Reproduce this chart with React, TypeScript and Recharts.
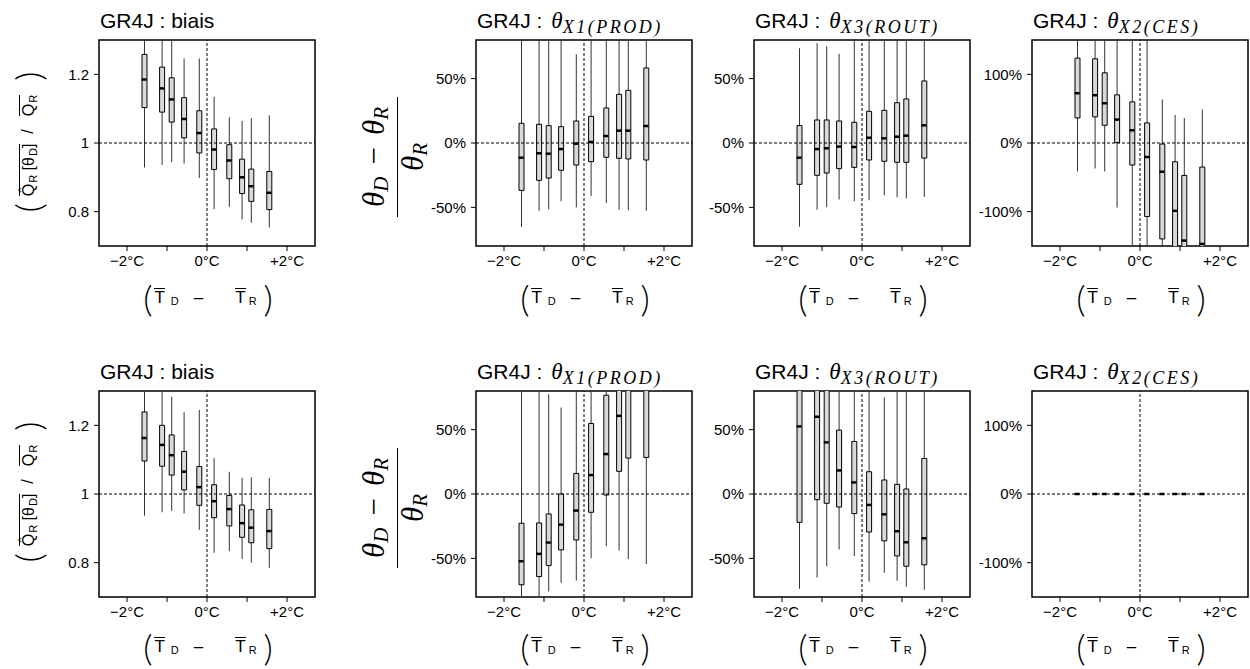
import React from "react";
import {
  Bar,
  ComposedChart,
  ReferenceArea,
  ReferenceLine,
  Scatter,
  XAxis,
  YAxis,
} from "recharts";

const SANS = "'Liberation Sans', Arial, Helvetica, sans-serif";
const SERIF = "'Liberation Serif', 'Times New Roman', serif";

// positions of the 10 boxes on the temperature axis (°C)
const X_POS = [-1.56, -1.12, -0.88, -0.57, -0.19, 0.18, 0.56, 0.88, 1.11, 1.56];
const X_TICKS = [-2, -1, 0, 1, 2];

// each box: [lower whisker, q1, median, q3, upper whisker]
type Box = [number, number, number, number, number];

const biaisTop: Box[] = [
  [0.929, 1.103, 1.185, 1.258, 1.4],
  [0.936, 1.09, 1.159, 1.221, 1.38],
  [0.945, 1.061, 1.127, 1.19, 1.36],
  [0.94, 1.015, 1.07, 1.132, 1.246],
  [0.898, 0.971, 1.029, 1.094, 1.246],
  [0.807, 0.923, 0.981, 1.041, 1.135],
  [0.814, 0.896, 0.949, 0.995, 1.075],
  [0.777, 0.853, 0.9, 0.953, 1.065],
  [0.768, 0.83, 0.874, 0.924, 1.072],
  [0.754, 0.806, 0.855, 0.917, 1.081],
];
const prodTop: Box[] = [
  [-65.2, -36.8, -11.4, 15.3, 100],
  [-52.6, -29, -8, 14.5, 100],
  [-51.5, -27.2, -8.3, 13.5, 100],
  [-45.3, -21.2, -4.7, 12.7, 100],
  [-50, -17.1, -0.5, 17.1, 68.9],
  [-41.2, -14.5, 0.8, 20.7, 100],
  [-46.6, -11.1, 5.4, 27.2, 100],
  [-51.8, -11.9, 9.6, 37.8, 100],
  [-52.3, -12.4, 9.6, 40.9, 100],
  [-52.6, -13.2, 13.2, 58.3, 100],
];
const routTop: Box[] = [
  [-65, -32.1, -11.4, 13.5, 73.5],
  [-51.8, -25.1, -4.7, 17.9, 77.7],
  [-49.7, -23.3, -4.1, 17.9, 75.1],
  [-43.8, -19.9, -2.8, 17.1, 69.4],
  [-45.3, -18.9, -3.1, 16.1, 100],
  [-44.5, -13.2, 4.1, 24.6, 100],
  [-40.6, -14.2, 3.6, 25.4, 100],
  [-42.2, -15, 4.9, 31.3, 100],
  [-43.2, -15, 5.7, 34.2, 100],
  [-41.9, -11.7, 13.7, 48.2, 100],
];
const cesTop: Box[] = [
  [-41.4, 36.5, 72.5, 123.6, 200],
  [-37, 38, 69.6, 122.6, 200],
  [-41.4, 25.8, 57.9, 102.2, 200],
  [-93.9, 0.5, 34.1, 70.1, 200],
  [-200, -32.1, 18.5, 59.9, 200],
  [-200, -107.1, -20.4, 29.2, 200],
  [-200, -139.7, -41.8, -1.5, 63.3],
  [-200, -170, -98.8, -27.3, 40.9],
  [-200, -175, -142.1, -47.2, 36.5],
  [-200, -180, -147, -35, 48.7],
];
const biaisBot: Box[] = [
  [0.937, 1.096, 1.163, 1.239, 1.4],
  [0.947, 1.081, 1.143, 1.2, 1.36],
  [0.951, 1.055, 1.113, 1.172, 1.283],
  [0.943, 1.012, 1.065, 1.124, 1.238],
  [0.896, 0.967, 1.02, 1.08, 1.245],
  [0.829, 0.931, 0.979, 1.027, 1.104],
  [0.834, 0.907, 0.956, 0.996, 1.065],
  [0.811, 0.874, 0.915, 0.968, 1.047],
  [0.8, 0.858, 0.902, 0.954, 1.049],
  [0.785, 0.841, 0.892, 0.955, 1.047],
];
const prodBot: Box[] = [
  [-100, -70.5, -52.2, -22.7, 100],
  [-100, -64.1, -46.5, -22.5, 100],
  [-75.7, -55.6, -37.7, -15.5, 77.5],
  [-69, -43.4, -23.8, 0, 67.2],
  [-67.2, -35.7, -12.9, 16, 100],
  [-49.9, -14.2, 14.7, 54.8, 100],
  [-40.6, -0.8, 31, 76.7, 100],
  [-43.9, 17.6, 60.7, 100, 150],
  [-50.4, 27.9, 90, 110, 150],
  [-54.3, 28.4, 90, 110, 150],
];
const routBot: Box[] = [
  [-73.6, -22, 52.5, 100, 150],
  [-64.9, -4.4, 60, 100, 150],
  [-56.1, -7.2, 40.1, 100, 150],
  [-43.2, -10.1, 18.3, 49.6, 100],
  [-48.1, -15.2, 9, 40.8, 100],
  [-68.2, -29.5, -8.5, 17.3, 100],
  [-61.2, -36.4, -15.8, 10.9, 74.9],
  [-67.4, -48.1, -28.9, 7.5, 100],
  [-72.1, -56.1, -37.5, 3.9, 100],
  [-74.4, -55, -34.4, 27.6, 100],
];
const cesBot: Box[] = X_POS.map(() => [0, 0, 0, 0, 0] as Box);

const PLOT_LEFT = [99, 476, 754, 1032];
const PLOT_TOP = [40, 391];
const PLOT_W = 216;
const PLOT_H = 206;

type Scale = { domain: [number, number]; ticks: number[]; ref: number; fmt: (v: number) => string };
const pct = (v: number) => `${v}%`;
const SCALES: Record<string, Scale> = {
  biais: { domain: [0.7, 1.3], ticks: [0.8, 1, 1.2], ref: 1, fmt: (v) => String(v) },
  p80: { domain: [-80, 80], ticks: [-50, 0, 50], ref: 0, fmt: pct },
  p150: { domain: [-150, 150], ticks: [-100, 0, 100], ref: 0, fmt: pct },
};

const fmtT = (v: number) => (v === 0 ? "0°C" : v === -2 ? "−2°C" : v === 2 ? "+2°C" : "");

const Median = (p: any) => (
  <line x1={p.cx - 3} x2={p.cx + 2} y1={p.cy} y2={p.cy} stroke="#000" strokeWidth={2.5} />
);

function Panel({ col, row, boxes, scale }: { col: number; row: number; boxes: Box[]; scale: Scale }) {
  const rows = X_POS.map((x, i) => ({
    x,
    whisker: [boxes[i][0], boxes[i][4]],
    box: [boxes[i][1], boxes[i][3]],
    med: boxes[i][2],
  }));
  const tickStyle = { fill: "#000", fontSize: 15, fontFamily: SANS };
  return (
    <div style={{ position: "absolute", left: PLOT_LEFT[col] - 60, top: PLOT_TOP[row] - 5 }}>
      <ComposedChart
        width={60 + PLOT_W + 5}
        height={5 + PLOT_H + 35}
        data={rows}
        margin={{ top: 5, right: 5, bottom: 0, left: 0 }}
      >
        <XAxis
          xAxisId="w"
          dataKey="x"
          type="number"
          domain={[-2.7, 2.7]}
          ticks={X_TICKS}
          tickFormatter={fmtT}
          allowDataOverflow
          axisLine={false}
          tickSize={5}
          tickMargin={4}
          height={35}
          stroke="#000"
          tick={tickStyle}
        />
        <XAxis
          xAxisId="b"
          dataKey="x"
          type="number"
          orientation="top"
          height={0}
          domain={[-2.7, 2.7]}
          ticks={X_TICKS}
          allowDataOverflow
          hide
        />
        <YAxis
          type="number"
          domain={scale.domain}
          ticks={scale.ticks}
          tickFormatter={scale.fmt}
          allowDataOverflow
          axisLine={false}
          tickSize={5}
          tickMargin={5}
          width={60}
          stroke="#000"
          tick={tickStyle}
        />
        <ReferenceLine xAxisId="w" y={scale.ref} stroke="#000" strokeDasharray="3 2" />
        <ReferenceLine xAxisId="w" x={0} stroke="#000" strokeDasharray="3 2" />
        <Bar xAxisId="w" dataKey="whisker" barSize={1} fill="#333" isAnimationActive={false} />
        <Bar xAxisId="b" dataKey="box" barSize={5} fill="#d9d9d9" stroke="#000" strokeWidth={1} isAnimationActive={false} />
        <Scatter xAxisId="b" dataKey="med" data={rows} shape={Median} isAnimationActive={false} />
        <ReferenceArea
          xAxisId="w"
          x1={-2.7}
          x2={2.7}
          y1={scale.domain[0]}
          y2={scale.domain[1]}
          fill="none"
          fillOpacity={0}
          stroke="#000"
          strokeWidth={1.5}
        />
      </ComposedChart>
    </div>
  );
}

const PAREN: React.CSSProperties = {
  fontFamily: "Lato, 'DejaVu Sans', sans-serif",
  fontWeight: 300,
  fontSize: 36,
  lineHeight: "38px",
};
const OVER: React.CSSProperties = {
  display: "inline-block",
  borderTop: "1px solid #000",
  lineHeight: "13px",
  paddingTop: 2,
};

function Title({ col, row, sub }: { col: number; row: number; sub?: string }) {
  const base = row === 0 ? 28 : 379;
  return (
    <div
      style={{
        position: "absolute",
        left: PLOT_LEFT[col] + 1,
        top: base - 18,
        fontFamily: SANS,
        fontSize: 21,
        lineHeight: "21px",
        whiteSpace: "nowrap",
      }}
    >
      {sub ? (
        <>
          GR4J :
          <span style={{ fontFamily: SERIF, fontStyle: "italic", fontSize: 23, marginLeft: 9 }}>θ</span>
          <span
            style={{
              fontFamily: SERIF,
              fontStyle: "italic",
              fontSize: 18,
              letterSpacing: 2.5,
              position: "relative",
              top: 5,
            }}
          >
            {sub}
          </span>
        </>
      ) : (
        "GR4J : biais"
      )}
    </div>
  );
}

function TLabel({ col, row }: { col: number; row: number }) {
  const cx = PLOT_LEFT[col] + PLOT_W / 2 + 1;
  const cy = row === 0 ? 298 : 647;
  const sub: React.CSSProperties = { fontSize: 11, position: "relative", top: 3 };
  return (
    <div
      style={{
        position: "absolute",
        left: cx - 80,
        top: cy - 20,
        width: 160,
        height: 40,
        display: "flex",
        alignItems: "center",
        justifyContent: "center",
        fontFamily: SANS,
        fontSize: 17,
        whiteSpace: "nowrap",
      }}
    >
      <span style={PAREN}>(</span>
      <span style={{ ...OVER, position: "relative", top: -2, marginLeft: 2 }}>T</span>
      <span style={{ ...sub, marginLeft: 6 }}>D</span>
      <span style={{ marginLeft: 15 }}>–</span>
      <span style={{ ...OVER, position: "relative", top: -2, marginLeft: 32 }}>T</span>
      <span style={{ ...sub, marginLeft: 3 }}>R</span>
      <span style={{ ...PAREN, marginLeft: 7 }}>)</span>
    </div>
  );
}

function QLabel({ row }: { row: number }) {
  const cx = 28;
  const cy = row === 0 ? 142 : 492;
  const sub: React.CSSProperties = { fontSize: 11, position: "relative", top: 3, marginLeft: 1 };
  return (
    <div
      style={{
        position: "absolute",
        left: cx - 90,
        top: cy - 20,
        width: 180,
        height: 40,
        transform: "rotate(-90deg)",
        display: "flex",
        alignItems: "center",
        justifyContent: "center",
        fontFamily: SANS,
        fontSize: 16,
        whiteSpace: "nowrap",
      }}
    >
      <span style={PAREN}>(</span>
      <span style={{ ...OVER, marginLeft: 7 }}>
        Q̂<span style={sub}>R</span> [θ<span style={sub}>D</span>]
      </span>
      <span style={{ marginLeft: 10 }}>/</span>
      <span style={{ ...OVER, marginLeft: 13 }}>
        Q<span style={sub}>R</span>
      </span>
      <span style={{ ...PAREN, marginLeft: 14 }}>)</span>
    </div>
  );
}

function FracLabel({ row }: { row: number }) {
  const cx = 396;
  const cy = row === 0 ? 157 : 508;
  const th: React.CSSProperties = { fontFamily: SERIF, fontStyle: "italic", fontSize: 31 };
  const sub: React.CSSProperties = { fontFamily: SERIF, fontStyle: "italic", fontSize: 21, position: "relative", top: 4 };
  return (
    <div
      style={{
        position: "absolute",
        left: cx - 80,
        top: cy - 40,
        width: 160,
        height: 80,
        transform: "rotate(-90deg)",
        display: "flex",
        flexDirection: "column",
        alignItems: "center",
        justifyContent: "center",
        whiteSpace: "nowrap",
      }}
    >
      <div style={{ lineHeight: "28px", paddingBottom: 4 }}>
        <span style={th}>θ</span>
        <span style={sub}>D</span>
        <span style={{ fontFamily: SERIF, fontSize: 31, margin: "0 12px" }}>−</span>
        <span style={th}>θ</span>
        <span style={sub}>R</span>
      </div>
      <div style={{ width: 120, height: 1.5, background: "#000" }} />
      <div style={{ lineHeight: "28px", paddingTop: 1 }}>
        <span style={th}>θ</span>
        <span style={sub}>R</span>
      </div>
    </div>
  );
}

export default function App() {
  return (
    <div
      style={{
        position: "absolute",
        left: 0,
        top: 0,
        width: 1250,
        height: 669,
        background: "#fff",
        overflow: "hidden",
      }}
    >
      <Panel col={0} row={0} boxes={biaisTop} scale={SCALES.biais} />
      <Panel col={1} row={0} boxes={prodTop} scale={SCALES.p80} />
      <Panel col={2} row={0} boxes={routTop} scale={SCALES.p80} />
      <Panel col={3} row={0} boxes={cesTop} scale={SCALES.p150} />
      <Panel col={0} row={1} boxes={biaisBot} scale={SCALES.biais} />
      <Panel col={1} row={1} boxes={prodBot} scale={SCALES.p80} />
      <Panel col={2} row={1} boxes={routBot} scale={SCALES.p80} />
      <Panel col={3} row={1} boxes={cesBot} scale={SCALES.p150} />

      {[0, 1].map((r) => (
        <React.Fragment key={r}>
          <Title col={0} row={r} />
          <Title col={1} row={r} sub="X1(PROD)" />
          <Title col={2} row={r} sub="X3(ROUT)" />
          <Title col={3} row={r} sub="X2(CES)" />
          {[0, 1, 2, 3].map((c) => (
            <TLabel key={c} col={c} row={r} />
          ))}
          <QLabel row={r} />
          <FracLabel row={r} />
        </React.Fragment>
      ))}
    </div>
  );
}
